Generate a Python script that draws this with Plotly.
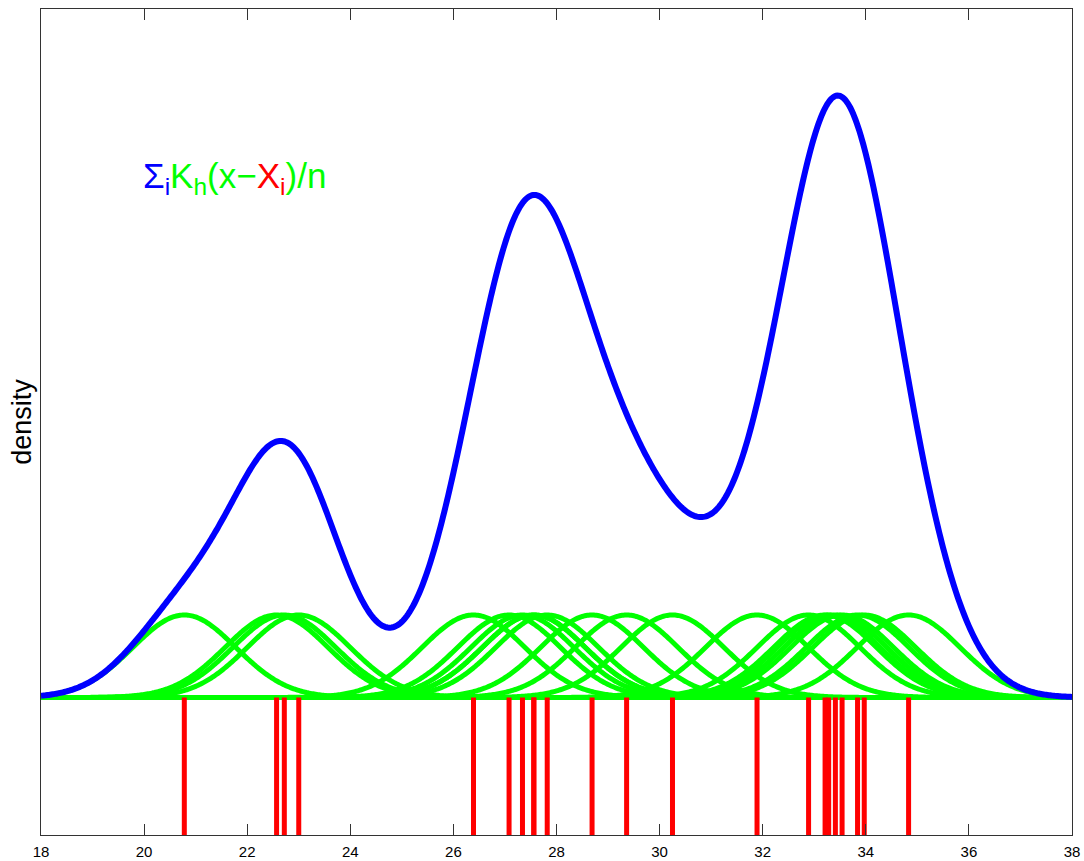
import numpy as np
import plotly.graph_objects as go

# Data points (rug)
samples = [20.78, 22.57, 22.72, 23.00, 26.39, 27.08, 27.34, 27.56, 27.56, 27.82,
           28.69, 29.36, 30.25, 31.89, 32.89, 33.21, 33.28, 33.41, 33.54,
           33.84, 33.97, 34.83]
bandwidth = 1.0
x_min, x_max = 18, 38
tick_vals = [18, 20, 22, 24, 26, 28, 30, 32, 34, 36, 38]

n = len(samples)
xs = np.linspace(x_min, x_max, 801)


def kern(x, xi, h):
    return np.exp(-0.5 * ((x - xi) / h) ** 2) / (h * np.sqrt(2 * np.pi))


kernels = [kern(xs, xi, bandwidth) / n for xi in samples]
density = np.sum(kernels, axis=0)

kpeak = 1 / (n * bandwidth * np.sqrt(2 * np.pi))
y_lo = -137.5 / 82.5 * kpeak
y_hi = 688.5 / 82.5 * kpeak

fig = go.Figure()

# green kernels
gx, gy = [], []
for k in kernels:
    gx += list(xs) + [None]
    gy += list(k) + [None]
fig.add_trace(go.Scatter(x=gx, y=gy, mode="lines",
                         line=dict(color="#00ff00", width=5, simplify=False),
                         hoverinfo="skip"))

# red rug
rx, ry = [], []
for xi in samples:
    rx += [xi, xi, None]
    ry += [0, y_lo, None]
fig.add_trace(go.Scatter(x=rx, y=ry, mode="lines",
                         line=dict(color="#ff0000", width=5), hoverinfo="skip"))

# blue density
fig.add_trace(go.Scatter(x=xs, y=density, mode="lines",
                         line=dict(color="#0000ff", width=6, simplify=False),
                         hoverinfo="skip"))

fig.add_annotation(
    x=(141 - 41) / (1072 - 41), y=(835 - 178) / (835 - 9),
    xref="paper", yref="paper", showarrow=False,
    xanchor="left", yanchor="middle",
    text=("<span style='color:#0000ff'>Σ<sub>i</sub></span>"
          "<span style='color:#00ff00'>K<sub>h</sub>(x−</span>"
          "<span style='color:#ff0000'>X<sub>i</sub></span>"
          "<span style='color:#00ff00'>)/n</span>"),
    font=dict(family="Liberation Sans, Arial, sans-serif", size=35),
)

fig.update_layout(
    width=1084, height=861,
    margin=dict(l=41, r=12, t=9, b=26),
    paper_bgcolor="white", plot_bgcolor="white",
    showlegend=False,
    font=dict(family="Liberation Sans, Arial, sans-serif", color="black"),
)
fig.update_xaxes(
    range=[x_min, x_max], tickvals=tick_vals, automargin=False,
    ticks="inside", ticklen=11, tickwidth=1, tickcolor="#333333",
    showline=True, linecolor="#333333", linewidth=1, mirror="ticks",
    showgrid=False, zeroline=False,
    tickfont=dict(size=15, color="black"), ticklabelstandoff=3,
)
fig.update_yaxes(
    range=[y_lo, y_hi], showticklabels=False, ticks="", automargin=False,
    showline=True, linecolor="#333333", linewidth=1, mirror=True,
    showgrid=False, zeroline=False,
    title=dict(text="density", font=dict(size=27, color="black"), standoff=0),
)

fig.write_html("out.html",
               config={"displayModeBar": False},
               post_script="document.body.style.margin='0px';"
                           "document.body.style.overflow='hidden';")
